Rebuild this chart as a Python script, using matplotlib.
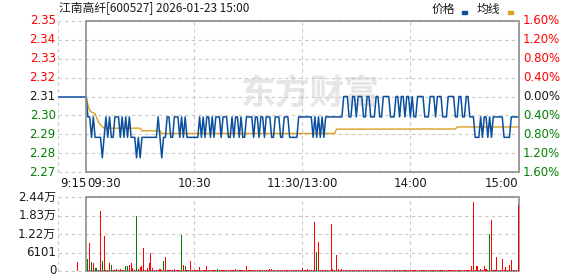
import numpy as np
import matplotlib
matplotlib.use("Agg")
import matplotlib.pyplot as plt
import matplotlib.transforms as mtransforms
from matplotlib.patches import Rectangle

plt.rcParams['font.family'] = ['DejaVu Sans', 'Noto Sans CJK SC']

# --- figure size in pixels ---
W, H = 578, 276

TITLE = "江南高纤[600527] 2026-01-23 15:00"
PREV_CLOSE = 2.31

# price per minute, 09:30 (m=0) .. 15:00 (m=240)
PRICE = [
    2.31, 2.30, 2.30, 2.29, 2.30, 2.29, 2.29, 2.29, 2.29, 2.28,
    2.29, 2.30, 2.29, 2.30, 2.29, 2.29, 2.30, 2.30, 2.30, 2.29,
    2.30, 2.29, 2.30, 2.29, 2.30, 2.29, 2.29, 2.29, 2.28, 2.29,
    2.28, 2.29, 2.29, 2.29, 2.29, 2.29, 2.29, 2.29, 2.29, 2.29,
    2.30, 2.29, 2.28, 2.29, 2.29, 2.30, 2.30, 2.29, 2.29, 2.30,
    2.30, 2.30, 2.29, 2.30, 2.29, 2.30, 2.29, 2.29, 2.29, 2.29,
    2.29, 2.29, 2.29, 2.30, 2.29, 2.30, 2.29, 2.30, 2.30, 2.29,
    2.30, 2.29, 2.30, 2.30, 2.30, 2.29, 2.30, 2.30, 2.30, 2.29,
    2.29, 2.30, 2.29, 2.30, 2.30, 2.29, 2.30, 2.29, 2.29, 2.30,
    2.30, 2.30, 2.30, 2.29, 2.30, 2.30, 2.29, 2.30, 2.30, 2.29,
    2.30, 2.30, 2.30, 2.29, 2.29, 2.30, 2.30, 2.30, 2.29, 2.29,
    2.30, 2.30, 2.30, 2.29, 2.29, 2.29, 2.29, 2.29, 2.30, 2.30,
    2.30, 2.30, 2.30, 2.30, 2.30, 2.30, 2.29, 2.30, 2.29, 2.30,
    2.29, 2.30, 2.29, 2.30, 2.30, 2.30, 2.30, 2.30, 2.30, 2.30,
    2.30, 2.30, 2.30, 2.31, 2.31, 2.31, 2.30, 2.30, 2.31, 2.31,
    2.30, 2.31, 2.31, 2.31, 2.30, 2.30, 2.31, 2.31, 2.30, 2.30,
    2.30, 2.31, 2.31, 2.30, 2.30, 2.31, 2.31, 2.31, 2.31, 2.30,
    2.30, 2.30, 2.31, 2.31, 2.30, 2.31, 2.31, 2.30, 2.31, 2.31,
    2.30, 2.31, 2.30, 2.30, 2.31, 2.31, 2.31, 2.31, 2.30, 2.30,
    2.30, 2.31, 2.31, 2.31, 2.30, 2.31, 2.31, 2.31, 2.30, 2.30,
    2.30, 2.31, 2.31, 2.31, 2.31, 2.30, 2.30, 2.31, 2.31, 2.30,
    2.30, 2.31, 2.31, 2.30, 2.30, 2.30, 2.29, 2.29, 2.29, 2.30,
    2.29, 2.30, 2.30, 2.29, 2.30, 2.29, 2.30, 2.30, 2.30, 2.30,
    2.30, 2.30, 2.29, 2.29, 2.29, 2.29, 2.30, 2.30, 2.30, 2.30,
    2.30,
]

# average price line, read at its break points
AVG_MIN = [0, 1.5, 2.5, 4, 5, 6, 7, 9, 10, 30, 31, 41, 42, 138, 139, 205, 206, 240]
AVG_PRICE = [2.31, 2.3042, 2.3026, 2.302, 2.3015, 2.2993, 2.2972, 2.2952, 2.2945,
             2.2945, 2.2932, 2.2932, 2.2919, 2.2919, 2.2940, 2.2941, 2.2951, 2.2951]

# volume per minute (shares x100)
VOLUME = [
    0, 3950, 9270, 3050, 2700, 1100, 900, 400, 19660, 3400,
    11500, 400, 400, 2700, 2000, 300, 400, 600, 300, 500,
    400, 400, 1700, 1700, 1900, 2500, 900, 400, 18300, 800,
    1300, 1600, 7460, 400, 900, 2800, 5880, 1100, 400, 400,
    400, 600, 400, 3400, 4750, 400, 400, 400, 400, 700,
    400, 400, 400, 11870, 1900, 1700, 400, 400, 3400, 400,
    400, 400, 400, 1200, 400, 400, 400, 1700, 400, 400,
    400, 400, 400, 700, 400, 400, 400, 400, 400, 400,
    400, 400, 400, 700, 400, 400, 400, 400, 400, 1700,
    400, 400, 400, 400, 400, 400, 400, 400, 400, 400,
    400, 400, 700, 700, 400, 400, 400, 400, 400, 400,
    400, 400, 400, 400, 400, 400, 400, 400, 400, 400,
    900, 400, 400, 700, 400, 400, 400, 16000, 6200, 9500,
    400, 400, 400, 400, 400, 400, 15400, 500, 400, 5400,
    700, 400, 700, 400, 400, 400, 400, 400, 400, 400,
    400, 400, 400, 400, 400, 400, 400, 400, 400, 400,
    400, 400, 400, 400, 400, 400, 400, 400, 400, 400,
    400, 400, 400, 400, 400, 400, 400, 400, 400, 400,
    400, 400, 400, 400, 400, 400, 400, 400, 400, 400,
    400, 400, 400, 400, 400, 400, 400, 400, 400, 400,
    400, 400, 400, 400, 400, 400, 400, 400, 400, 400,
    400, 400, 400, 400, 1650, 22660, 400, 1500, 400, 700,
    400, 1700, 700, 400, 12100, 16700, 400, 400, 4500, 400,
    400, 3960, 400, 1300, 400, 2000, 3630, 400, 400, 400,
    21640,
]
GREEN_MIN = [1, 3, 5, 6, 9, 11, 14, 22, 23, 28, 43, 53, 55, 73, 128, 224]
AUCTION_MIN = -5       # 09:25 call auction bar
AUCTION_VOL = 3050

VOL_MAX = 24404
VOL_TICKS = [0, 6101, 12202, 18303, 24404]
VOL_LABELS = ["0", "6101", "1.22万", "1.83万", "2.44万"]

PCT_STEPS = [4, 3, 2, 1, 0, -1, -2, -3, -4]
LEFT_LABELS = ["2.35", "2.34", "2.33", "2.32", "2.31", "2.30", "2.29", "2.28", "2.27"]
RIGHT_LABELS = ["1.60%", "1.20%", "0.80%", "0.40%", "0.00%", "0.40%", "0.80%", "1.20%", "1.60%"]

TIME_POS = [-15, 0, 60, 120, 180, 240]
TIME_LABELS = ["9:15", "09:30", "10:30", "11:30/13:00", "14:00", "15:00"]

XMIN, XMAX = -15.6, 240.3
RED, GREEN, DARK = "#ff0000", "#008000", "#1a1a1a"
BLUE, ORANGE = "#0a4f9e", "#daa020"
GRID, FRAME = "#c8c8c8", "#8c8c8c"


def box(l, t, r, b):
    return [l / W, 1 - b / H, (r - l) / W, (b - t) / H]


fig = plt.figure(figsize=(W / 100, H / 100), dpi=100)
ax = fig.add_axes(box(58, 21, 519, 172))
axv = fig.add_axes(box(58, 197, 519, 271))

levels = [PREV_CLOSE * (1 + 0.004 * k) for k in PCT_STEPS]
ylo, yhi = min(levels), max(levels)

for a, (lo, hi), hlines in [(ax, (ylo, yhi), levels), (axv, (0, VOL_MAX), VOL_TICKS)]:
    a.set_xlim(XMIN, XMAX)
    a.set_ylim(lo, hi)
    a.set_xticks([])
    a.set_yticks([])
    for s in a.spines.values():
        s.set_visible(False)
    for y in hlines:
        a.axhline(y, color=GRID, lw=0.8, ls=(0, (3, 3)), zorder=0.5, clip_on=False)
    for x in [XMIN, 60, 120, 180]:
        a.axvline(x, color=GRID, lw=0.8, ls=(0, (3, 3)), zorder=0.5, clip_on=False)
    a.add_patch(Rectangle((0, lo), XMAX, hi - lo, fill=False, edgecolor=FRAME,
                          lw=1.2, zorder=5, clip_on=False))

# watermark
ax.text(0.548, 0.52, "东方财富", transform=ax.transAxes, fontsize=25,
        fontweight="bold", color="#e6e6e6", ha="center", va="center",
        family=["Noto Sans CJK SC"], zorder=0.3)

# price + average
minutes = np.arange(len(PRICE))
ax.plot([-15, 0], [PREV_CLOSE, PREV_CLOSE], color=BLUE, lw=1.1, zorder=3)
ax.plot(AVG_MIN, AVG_PRICE, color=ORANGE, lw=1.0, zorder=2)
ax.plot(minutes, PRICE, color=BLUE, lw=1.1, zorder=3)

# volume bars
vol_colors = [GREEN if m in GREEN_MIN else RED for m in range(len(VOLUME))]
axv.bar(np.arange(len(VOLUME)), VOLUME, width=0.6, color=vol_colors, linewidth=0,
        zorder=6, antialiased=False)
axv.bar([AUCTION_MIN], [AUCTION_VOL], width=0.6, color=RED, linewidth=0,
        zorder=6, antialiased=False)

# left / right price labels
for lvl, lab, k in zip(levels, LEFT_LABELS, PCT_STEPS):
    c = RED if k > 0 else (GREEN if k < 0 else DARK)
    ax.text(-0.005, lvl, lab, color=c, fontsize=8.5, ha="right", va="center",
            transform=mtransforms.blended_transform_factory(ax.transAxes, ax.transData))
for lvl, lab, k in zip(levels, RIGHT_LABELS, PCT_STEPS):
    c = RED if k > 0 else (GREEN if k < 0 else DARK)
    ax.text(1.009, lvl, lab, color=c, fontsize=8.5, ha="left", va="center",
            transform=mtransforms.blended_transform_factory(ax.transAxes, ax.transData))

for v, lab in zip(VOL_TICKS, VOL_LABELS):
    axv.text(-0.004, v, lab, color=DARK, fontsize=8.5, ha="right", va="center",
             transform=mtransforms.blended_transform_factory(axv.transAxes, axv.transData))

# time labels
tt = mtransforms.blended_transform_factory(ax.transData, ax.transAxes)
aligns = ["left", "left", "center", "center", "center", "right"]
for x, lab, ha in zip(TIME_POS, TIME_LABELS, aligns):
    ax.text(x + (0.5 if ha == "left" else 0), -0.075, lab, transform=tt,
            fontsize=8.5, ha=ha, va="center", color=DARK)

# title and legend
fig.text(59 / W, 1 - 9 / H, TITLE, fontsize=8.5, ha="left", va="center",
         color=DARK, family=["Noto Sans CJK SC", "DejaVu Sans"])
fig.text(432 / W, 1 - 9 / H, "价格", fontsize=8.5, ha="left", va="center",
         color=DARK, family=["Noto Sans CJK SC"])
fig.text(477 / W, 1 - 9 / H, "均线", fontsize=8.5, ha="left", va="center",
         color=DARK, family=["Noto Sans CJK SC"])
fig.patches.append(Rectangle((462 / W, 1 - 13.5 / H), 4.5 / W, 2 / H,
                             transform=fig.transFigure, color=BLUE, figure=fig))
fig.patches.append(Rectangle((508 / W, 1 - 13.5 / H), 5 / W, 2 / H,
                             transform=fig.transFigure, color=ORANGE, figure=fig))

fig.savefig("out.png", dpi=100)
